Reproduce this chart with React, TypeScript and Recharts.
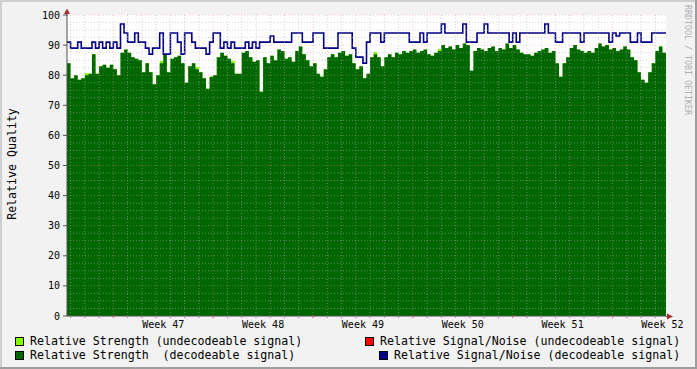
import React from 'react';
import { ComposedChart, Area, Line, XAxis, YAxis, ReferenceLine, CartesianGrid } from 'recharts';

// time axis in days counted from Monday 00:00 of week 46; one sample every 6 hours
const START_DAY = 3.75;
const STEP_DAYS = 0.25;

// Relative Strength (decodeable signal), one value per 6-hour sample
const strengthDecodeable: number[] = [
  84, 79, 80, 78.5, 79, 80, 80.5, 87, 80.5, 83,
  83.5, 82.5, 83.5, 82, 80, 87.5, 88.5, 87.5, 86, 85.5,
  85, 81, 84, 81, 77, 80, 84, 87, 81, 85.5,
  86, 86.5, 84, 77.5, 83, 84, 82, 81, 79, 75.5,
  79.5, 80, 86, 87.5, 86.5, 85.5, 84, 80.5, 80.5, 87.5,
  88, 86, 84.5, 85, 74.5, 86, 84, 86.5, 85, 88.5,
  88, 85.5, 86, 84.5, 88, 89.5, 87, 85, 83, 84,
  80.5, 79.5, 82, 86, 87, 86, 87.5, 88, 86.5, 87,
  84, 82, 83, 79, 80.5, 86, 87, 86, 83, 86,
  87, 86, 87.5, 87, 88, 87.5, 88, 88.5, 87.5, 88,
  88.5, 87, 86.5, 87.5, 88, 90, 89, 89.5, 88.5, 90,
  89, 90.5, 90, 81.5, 88, 89, 88.5, 88, 89, 89.5,
  88, 89, 88.5, 90.5, 89, 90, 88.5, 87.5, 87, 87,
  86.5, 87.5, 88, 88.5, 89, 87.5, 88, 84, 79.5, 84,
  86, 89, 90, 88.5, 88, 87.5, 88, 87.5, 89, 90.5,
  89.5, 90, 88.5, 89, 88, 88.5, 89.5, 88.5, 86, 85,
  81, 78.5, 77.5, 81, 84, 88, 89.5, 87.5, 88,
];

// Relative Signal/Noise (decodeable signal)
const snrDecodeable: number[] = [
  91, 89, 89, 91, 89, 89, 89, 91, 89, 91,
  89, 91, 89, 91, 89, 97, 94, 91, 91, 94,
  91, 91, 89, 87, 89, 89, 94, 87, 87, 94,
  94, 91, 87, 94, 94, 91, 89, 89, 89, 87,
  91, 94, 94, 89, 91, 89, 91, 89, 89, 89,
  91, 89, 91, 89, 91, 91, 91, 93, 91, 91,
  91, 91, 91, 94, 94, 94, 91, 91, 91, 94,
  94, 94, 89, 89, 89, 89, 94, 94, 94, 94,
  89, 86, 86, 84, 91, 94, 94, 94, 91, 94,
  94, 94, 94, 94, 94, 94, 91, 91, 91, 94,
  91, 94, 94, 94, 94, 97, 94, 94, 94, 94,
  94, 97, 91, 91, 91, 94, 94, 97, 94, 94,
  94, 94, 94, 94, 91, 94, 91, 94, 94, 94,
  94, 94, 94, 94, 97, 94, 94, 91, 91, 94,
  94, 94, 94, 94, 91, 94, 94, 94, 94, 94,
  94, 94, 91, 94, 93, 94, 94, 94, 91, 91,
  94, 91, 91, 91, 94, 94, 94, 94, 94,
];

// Relative Strength (undecodeable signal): the few samples where it peeks above
const strengthUndecodeablePoints: [number, number][] = [
  [5, 80.7], [26, 84.7], [36, 82.7], [46, 84.7], [86, 87.7], [104, 88.7],
];

const weekLabels = ['Week 47', 'Week 48', 'Week 49', 'Week 50', 'Week 51', 'Week 52'];
const weekLabelDays = [10.5, 17.5, 24.5, 31.5, 38.5, 45.5];
const yTicks = [0, 10, 20, 30, 40, 50, 60, 70, 80, 90, 100];

const FONT = '"DejaVu Sans Mono", monospace';

const weakMap = new Map<number, number>(strengthUndecodeablePoints);
const data = strengthDecodeable.map((v, i) => ({
  day: START_DAY + i * STEP_DAYS,
  strength: v,
  weak: weakMap.has(i) ? (weakMap.get(i) as number) : v,
  snr: snrDecodeable[i],
}));

const dayTicks: number[] = [];
for (let d = 4; d <= 45; d++) dayTicks.push(d);
const xTicks = [...dayTicks, ...weekLabelDays].sort((a, b) => a - b);

const hGrid: number[] = [];
for (let v = 2.5; v <= 100; v += 2.5) hGrid.push(v);

const XTick = (props: any) => {
  const { x, y, payload } = props;
  const v = payload.value as number;
  if (Number.isInteger(v)) {
    const major = v % 7 === 0;
    return <line x1={x} x2={x} y1={y} y2={y + 2} stroke={major ? '#d06060' : '#909090'} />;
  }
  const idx = weekLabelDays.indexOf(v);
  return (
    <text x={x} y={y + 12} textAnchor="middle" fontFamily={FONT} fontSize={10} fill="#000">
      {weekLabels[idx]}
    </text>
  );
};

const YTick = (props: any) => {
  const { x, y, payload } = props;
  return (
    <text x={x} y={y + 3.5} textAnchor="end" fontFamily={FONT} fontSize={10} fill="#000">
      {payload.value}
    </text>
  );
};

const legendItems = [
  { color: '#80ff00', text: 'Relative Strength (undecodeable signal)', bx: 15.5, by: 337.5, tx: 30, ty: 345 },
  { color: '#006600', text: 'Relative Strength  (decodeable signal)', bx: 15.5, by: 351.5, tx: 30, ty: 359 },
  { color: '#ff0000', text: 'Relative Signal/Noise (undecodeable signal)', bx: 365.5, by: 337.5, tx: 380, ty: 345 },
  { color: '#000088', text: 'Relative Signal/Noise (decodeable signal)', bx: 379.5, by: 351.5, tx: 394, ty: 359 },
];

export default function App() {
  return (
    <div style={{ position: 'absolute', left: 0, top: 0, width: 697, height: 369, background: '#f2f2f2' }}>
      <ComposedChart
        width={697}
        height={369}
        data={data}
        margin={{ top: 15, right: 31, bottom: 33, left: 0 }}
      >
        <CartesianGrid horizontal={false} vertical={false} fill="#ffffff" fillOpacity={1} />
        <XAxis
          dataKey="day"
          type="number"
          domain={[3.75, 45.75]}
          allowDataOverflow
          ticks={xTicks}
          interval={0}
          tickSize={0}
          tickMargin={0}
          tickLine={false}
          tick={<XTick />}
          axisLine={{ stroke: '#505050' }}
          height={20}
        />
        <YAxis
          type="number"
          domain={[0, 100]}
          ticks={yTicks}
          interval={0}
          width={67}
          tickSize={4}
          tickMargin={3}
          tickLine={{ stroke: '#505050' }}
          axisLine={{ stroke: '#505050' }}
          tick={<YTick />}
        />
        <Area
          type="stepAfter"
          dataKey="weak"
          stroke="none"
          fill="#80ff00"
          fillOpacity={1}
          isAnimationActive={false}
          dot={false}
          activeDot={false}
        />
        <Area
          type="stepAfter"
          dataKey="strength"
          stroke="none"
          fill="#006600"
          fillOpacity={1}
          isAnimationActive={false}
          dot={false}
          activeDot={false}
        />
        <Line
          type="stepAfter"
          dataKey="snr"
          stroke="#000088"
          strokeWidth={1.6}
          dot={false}
          activeDot={false}
          isAnimationActive={false}
        />
        {hGrid.map((v) => (
          <ReferenceLine
            key={'h' + v}
            y={v}
            stroke={v % 10 === 0 ? '#f09090' : '#b0b0b0'}
            strokeOpacity={v % 10 === 0 ? 0.45 : 0.55}
            strokeDasharray="1 2"
          />
        ))}
        {dayTicks.map((d) => (
          <ReferenceLine
            key={'v' + d}
            x={d}
            stroke={d % 7 === 0 ? '#f09090' : '#b0b0b0'}
            strokeOpacity={d % 7 === 0 ? 0.45 : 0.55}
            strokeDasharray="1 2"
          />
        ))}
      </ComposedChart>
      <svg
        width={697}
        height={369}
        style={{ position: 'absolute', left: 0, top: 0, pointerEvents: 'none' }}
      >
        {/* frame shading */}
        <rect x={0} y={0} width={697} height={2} fill="#cfcfcf" />
        <rect x={0} y={0} width={2} height={369} fill="#cfcfcf" />
        <rect x={0} y={367} width={697} height={2} fill="#9e9e9e" />
        <rect x={695} y={0} width={2} height={369} fill="#9e9e9e" />
        {/* axis extensions and arrows */}
        <line x1={67} x2={67} y1={10} y2={16} stroke="#505050" />
        <line x1={666} x2={669} y1={316.5} y2={316.5} stroke="#505050" />
        <polygon points="64,14 70,14 67,8.5" fill="#a03030" />
        <polygon points="667,313.5 667,319.5 673,316.5" fill="#a03030" />
        {/* y axis title */}
        <text
          transform="translate(15.5,164) rotate(-90)"
          textAnchor="middle"
          fontFamily={FONT}
          fontSize={11.6}
          fill="#000"
        >
          Relative Quality
        </text>
        {/* watermark */}
        <text
          transform="translate(685,5) rotate(90)"
          textAnchor="start"
          fontFamily={FONT}
          fontSize={8.3}
          fill="#b0b0b0"
        >
          RRDTOOL / TOBI OETIKER
        </text>
        {/* legend */}
        {legendItems.map((it) => (
          <g key={it.text}>
            <rect x={it.bx} y={it.by} width={8} height={8} fill={it.color} stroke="#000" strokeWidth={1} />
            <text x={it.tx} y={it.ty} fontFamily={FONT} fontSize={11.6} fill="#000" style={{ whiteSpace: 'pre' }} xmlSpace="preserve">
              {it.text}
            </text>
          </g>
        ))}
      </svg>
    </div>
  );
}
